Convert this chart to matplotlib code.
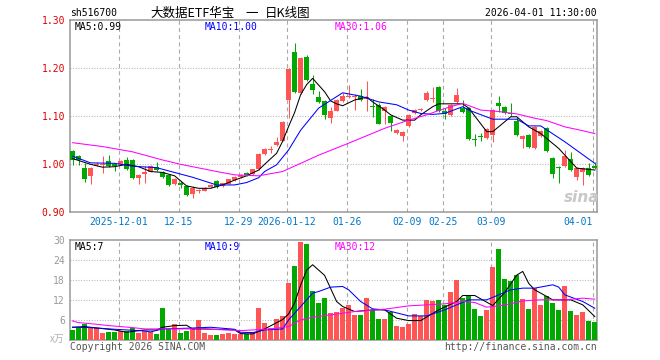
import matplotlib
matplotlib.use('Agg')
import matplotlib.pyplot as plt

plt.rcParams['font.family'] = ['DejaVu Sans Mono', 'Noto Sans CJK SC']

# candles, one per trading day (index 0 = first bar on the left)
opens = [1.028, 1.018, 0.993, 0.976, 0.998, 0.999, 1.007, 1.000, 1.000, 1.010,
         1.009, 0.972, 0.979, 0.985, 0.994, 0.984, 0.978, 0.958, 0.962, 0.955,
         0.938, 0.944, 0.945, 0.953, 0.965, 0.954, 0.960, 0.967, 0.974, 0.981,
         0.979, 0.990, 1.021, 1.030, 1.040, 1.049, 1.134, 1.233, 1.149, 1.224,
         1.167, 1.140, 1.132, 1.096, 1.112, 1.132, 1.141, 1.140, 1.142, 1.137,
         1.122, 1.124, 1.110, 1.100, 1.065, 1.059, 1.080, 1.107, 1.113, 1.134,
         1.136, 1.162, 1.112, 1.103, 1.130, 1.117, 1.117, 1.052, 1.059, 1.054,
         1.061, 1.128, 1.120, 1.106, 1.091, 1.052, 1.061, 1.033, 1.058, 1.076,
         1.014, 0.994, 0.997, 1.011, 0.974, 0.985, 0.992, 0.996]
closes = [1.009, 1.010, 0.969, 0.993, 1.001, 1.001, 0.997, 0.997, 1.007, 0.990,
          0.971, 0.978, 0.985, 0.996, 0.988, 0.974, 0.957, 0.970, 0.956, 0.937,
          0.951, 0.946, 0.951, 0.956, 0.953, 0.961, 0.969, 0.974, 0.977, 0.978,
          0.990, 1.021, 1.031, 1.032, 1.047, 1.089, 1.198, 1.151, 1.222, 1.176,
          1.155, 1.130, 1.103, 1.110, 1.134, 1.142, 1.143, 1.142, 1.134, 1.141,
          1.120, 1.085, 1.119, 1.087, 1.071, 1.067, 1.102, 1.114, 1.115, 1.149,
          1.138, 1.110, 1.105, 1.124, 1.144, 1.108, 1.053, 1.050, 1.057, 1.074,
          1.113, 1.122, 1.106, 1.104, 1.061, 1.059, 1.037, 1.078, 1.069, 1.028,
          0.979, 0.992, 1.018, 0.988, 0.993, 0.992, 0.978, 0.993]
highs = [1.030, 1.020, 1.002, 0.995, 1.004, 1.017, 1.019, 1.002, 1.008, 1.015,
         1.012, 0.980, 0.996, 0.998, 1.004, 0.986, 0.980, 0.971, 0.966, 0.956,
         0.955, 0.949, 0.952, 0.958, 0.967, 0.962, 0.970, 0.976, 0.980, 0.984,
         0.991, 1.023, 1.033, 1.038, 1.057, 1.091, 1.200, 1.252, 1.224, 1.228,
         1.187, 1.153, 1.134, 1.119, 1.136, 1.148, 1.165, 1.146, 1.157, 1.174,
         1.136, 1.128, 1.121, 1.102, 1.073, 1.069, 1.104, 1.116, 1.118, 1.153,
         1.162, 1.164, 1.117, 1.126, 1.158, 1.134, 1.119, 1.063, 1.066, 1.076,
         1.115, 1.142, 1.122, 1.127, 1.098, 1.061, 1.063, 1.080, 1.071, 1.078,
         1.016, 0.996, 1.030, 1.025, 0.995, 0.994, 1.003, 1.005]
lows = [0.999, 0.998, 0.964, 0.959, 0.996, 0.981, 0.995, 0.985, 0.999, 0.988,
        0.969, 0.959, 0.962, 0.984, 0.985, 0.972, 0.955, 0.956, 0.950, 0.934,
        0.930, 0.941, 0.944, 0.951, 0.951, 0.952, 0.958, 0.965, 0.971, 0.976,
        0.977, 0.988, 1.019, 1.024, 1.038, 1.048, 1.096, 1.149, 1.147, 1.174,
        1.146, 1.127, 1.094, 1.087, 1.110, 1.130, 1.138, 1.113, 1.132, 1.110,
        1.098, 1.083, 1.085, 1.070, 1.063, 1.049, 1.078, 1.105, 1.110, 1.132,
        1.130, 1.108, 1.094, 1.101, 1.128, 1.106, 1.051, 1.039, 1.049, 1.052,
        1.047, 1.108, 1.104, 1.100, 1.059, 1.035, 1.035, 1.031, 1.056, 1.026,
        0.971, 0.962, 0.995, 0.986, 0.967, 0.957, 0.976, 0.991]
volumes = [3.1, 3.8, 4.8, 3.8, 3.8, 2.3, 2.6, 2.6, 2.8, 2.8,
           3.6, 2.3, 2.9, 2.6, 2.0, 9.8, 3.3, 4.8, 2.3, 2.9,
           3.6, 6.1, 2.3, 1.6, 1.6, 1.9, 2.3, 1.9, 1.9, 1.9,
           2.4, 9.8, 5.1, 3.6, 6.4, 7.3, 17.1, 22.3, 29.5, 28.8,
           14.8, 11.1, 12.8, 8.1, 8.5, 9.6, 10.6, 7.6, 7.6, 12.7,
           9.1, 6.4, 6.4, 8.6, 4.4, 4.0, 4.9, 7.9, 7.2, 12.1,
           11.8, 12.1, 10.6, 14.3, 17.9, 12.8, 13.3, 9.4, 7.3, 9.1,
           21.8, 27.4, 18.4, 17.6, 19.6, 12.4, 9.4, 15.6, 10.6, 13.3,
           11.2, 9.1, 16.1, 8.8, 7.6, 8.5, 5.8, 5.4]

# moving averages (day index, value)
ma5_days = [0, 3, 5, 7, 9, 11, 13, 15, 17, 19, 21, 23, 25, 27, 29, 31, 32, 34, 35, 36,
            37, 38, 39, 40, 42, 43, 44, 45, 47, 49, 50, 52, 53, 55, 57, 58, 60, 61, 65,
            66, 69, 70, 73, 74, 76, 78, 81, 84, 87]
ma5_vals = [1.012, 1.000, 0.994, 0.995, 1.000, 0.995, 0.985, 0.983, 0.976, 0.955,
            0.950, 0.950, 0.957, 0.967, 0.976, 0.988, 1.000, 1.023, 1.048, 1.079,
            1.108, 1.145, 1.166, 1.179, 1.151, 1.132, 1.126, 1.122, 1.134, 1.140,
            1.130, 1.113, 1.103, 1.092, 1.092, 1.103, 1.120, 1.126, 1.126, 1.117,
            1.068, 1.068, 1.099, 1.099, 1.078, 1.064, 1.033, 0.992, 0.988]
ma10_days = [0, 3, 7, 10, 14, 17, 20, 24, 27, 29, 31, 32, 34, 36, 38, 41, 44, 45, 48,
             51, 54, 56, 58, 60, 62, 65, 66, 70, 74, 76, 78, 82, 87]
ma10_vals = [1.017, 1.003, 1.002, 0.996, 0.993, 0.983, 0.973, 0.957, 0.957, 0.962,
             0.972, 0.985, 0.999, 1.030, 1.071, 1.117, 1.141, 1.149, 1.142, 1.130,
             1.124, 1.113, 1.106, 1.104, 1.106, 1.120, 1.113, 1.094, 1.094, 1.080,
             1.080, 1.047, 1.002]
ma30_days = [0, 5, 10, 15, 18, 20, 24, 27, 31, 35, 41, 46, 52, 56, 59, 61, 63, 65, 68,
             71, 74, 77, 79, 82, 85, 87]
ma30_vals = [1.045, 1.037, 1.026, 1.009, 1.000, 0.995, 0.985, 0.978, 0.976, 0.985,
             1.019, 1.044, 1.075, 1.092, 1.103, 1.112, 1.120, 1.127, 1.113, 1.110,
             1.105, 1.096, 1.091, 1.078, 1.070, 1.064]

vma5_days = [0, 2, 7, 9, 12, 14, 15, 17, 19, 20, 22, 27, 28, 30, 32, 35, 36, 37, 38,
             39, 40, 41, 42, 43, 44, 45, 47, 50, 52, 54, 56, 58, 61, 64, 65, 67, 69,
             70, 72, 74, 75, 76, 77, 80, 83, 85, 87]
vma5_vals = [3.9, 4.1, 3.1, 2.4, 3.1, 3.1, 3.9, 4.4, 4.5, 3.4, 3.4, 3.1, 2.0, 1.9,
             3.4, 6.2, 7.9, 11.2, 16.5, 21.0, 22.6, 21.0, 19.4, 15.5, 11.6, 10.1,
             8.6, 9.1, 9.1, 6.6, 5.9, 5.9, 9.1, 11.6, 13.4, 13.4, 11.4, 10.4, 14.3,
             19.5, 20.6, 17.0, 15.1, 12.1, 12.1, 10.6, 7.1]
vma10_days = [0, 3, 7, 12, 13, 15, 19, 23, 27, 28, 30, 32, 35, 36, 38, 40, 41, 43,
              45, 46, 48, 50, 52, 56, 59, 62, 64, 66, 69, 71, 73, 75, 77, 80, 81, 82,
              85, 87]
vma10_vals = [3.9, 3.8, 3.3, 2.8, 2.5, 3.4, 3.6, 3.9, 3.3, 2.4, 2.3, 3.1, 3.4, 6.1,
              10.1, 14.1, 14.6, 15.9, 16.1, 15.1, 11.6, 9.4, 9.1, 7.3, 7.3, 9.1,
              10.6, 12.1, 12.1, 13.6, 15.1, 15.6, 15.6, 16.6, 15.9, 13.6, 11.6, 9.6]
vma30_days = [0, 1, 4, 6, 10, 12, 21, 26, 28, 30, 33, 36, 38, 40, 42, 43, 47, 52, 56,
              59, 62, 65, 67, 69, 71, 73, 75, 78, 82, 85, 87]
vma30_vals = [5.8, 5.3, 4.8, 4.4, 3.8, 3.4, 3.4, 3.1, 2.9, 3.1, 3.4, 4.1, 6.1, 6.9,
              7.4, 7.6, 8.6, 9.3, 10.3, 10.6, 10.9, 11.6, 11.3, 9.9, 10.3, 10.9, 11.8,
              12.1, 12.1, 12.6, 12.3]

date_days = [8, 18, 28, 36, 46, 56, 62, 70, 87]
date_labels = ['2025-12-01', '12-15', '12-29', '2026-01-12', '01-26',
               '02-09', '02-25', '03-09', '04-01']
price_ticks = [0.90, 1.00, 1.10, 1.20, 1.30]
vol_ticks = [6, 12, 18, 24, 30]

UP, DOWN = '#ff5555', '#00a800'
GRID = '#aaaaaa'
W, H = 660, 360


def px(x, y):
    return x / W, 1 - y / H


fig = plt.figure(figsize=(6.6, 3.6), dpi=100)
ax = fig.add_axes([70 / W, 1 - 212.3 / H, 527.3 / W, 192 / H])
vax = fig.add_axes([70 / W, 1 - 340.3 / H, 527.3 / W, 100.3 / H])

n = len(closes)
days = list(range(n))
colors = [UP if c >= o else DOWN for o, c in zip(opens, closes)]

# candles
bottoms = [min(o, c) for o, c in zip(opens, closes)]
heights = [max(abs(c - o), 0.0021) for o, c in zip(opens, closes)]
ax.vlines(days, lows, highs, colors=colors, lw=0.75, zorder=3)
ax.bar(days, heights, bottom=bottoms, width=0.8, color=colors, lw=0, zorder=4)
ax.plot(ma5_days, ma5_vals, color='black', lw=0.75, zorder=5)
ax.plot(ma10_days, ma10_vals, color='#0000ff', lw=0.75, zorder=5)
ax.plot(ma30_days, ma30_vals, color='#ff00ff', lw=0.75, zorder=5)

# volume
vax.bar(days, volumes, width=0.8, color=colors, lw=0, zorder=3)
vax.plot(vma5_days, vma5_vals, color='black', lw=0.75, zorder=5)
vax.plot(vma10_days, vma10_vals, color='#0000ff', lw=0.75, zorder=5)
vax.plot(vma30_days, vma30_vals, color='#ff00ff', lw=0.75, zorder=5)

for a in (ax, vax):
    a.set_xlim(-0.42, n - 1 + 0.42)
    a.set_xticks([])
    for d in date_days:
        a.axvline(d - 0.33, color=GRID, lw=0.8, ls=(0, (3.6, 2.9)), zorder=1)
    for s in a.spines.values():
        s.set_color('#999999')
        s.set_linewidth(1.1)
    a.tick_params(axis='y', length=0, pad=3.6, labelsize=7)

ax.set_ylim(0.90, 1.30)
ax.set_yticks(price_ticks)
ax.set_yticklabels([f'{t:.2f}' for t in price_ticks], color='#e00000')
for t in price_ticks[1:-1]:
    ax.axhline(t, color=GRID, lw=0.8, ls=(0, (0.8, 1.6)), zorder=1)

vax.set_ylim(0, 30)
vax.set_yticks(vol_ticks)
vax.set_yticklabels([str(t) for t in vol_ticks], color='#999999')
for t in vol_ticks[:-1]:
    vax.axhline(t, color=GRID, lw=0.8, ls=(0, (0.8, 1.6)), zorder=1)

# date labels under the price panel
for d, lab in zip(date_days, date_labels):
    ha = 'right' if d == date_days[-1] else 'center'
    ax.text(d - 0.33, -0.049, lab, transform=ax.get_xaxis_transform(),
            ha=ha, va='center', fontsize=7, color='#0078c8')

# header and footer text
fig.text(*px(70, 13.5), 'sh516700', fontsize=7, va='center', ha='left')
fig.text(*px(150, 13.5), '大数据ETF华宝', fontsize=9, va='center', ha='left',
         family=['Noto Sans CJK SC', 'DejaVu Sans'])
fig.text(*px(245, 13.5), '一', fontsize=9, va='center', ha='left',
         family=['Noto Sans CJK SC', 'DejaVu Sans'])
fig.text(*px(265, 13.5), '日K线图', fontsize=9, va='center', ha='left',
         family=['Noto Sans CJK SC', 'DejaVu Sans'])
fig.text(*px(597, 13.5), '2026-04-01 11:30:00', fontsize=7, va='center', ha='right')

fig.text(*px(75, 26.5), 'MA5:0.99', fontsize=7, va='center', color='black')
fig.text(*px(205, 26.5), 'MA10:1.00', fontsize=7, va='center', color='#0000ff')
fig.text(*px(335, 26.5), 'MA30:1.06', fontsize=7, va='center', color='#ff00ff')
fig.text(*px(75, 246.5), 'MA5:7', fontsize=7, va='center', color='black')
fig.text(*px(205, 246.5), 'MA10:9', fontsize=7, va='center', color='#0000ff')
fig.text(*px(335, 246.5), 'MA30:12', fontsize=7, va='center', color='#ff00ff')

fig.text(*px(64, 339), 'x万', fontsize=7, va='center', ha='right', color='#b0b0b0',
         family=['Noto Sans CJK SC', 'DejaVu Sans'])
fig.text(*px(70, 346.5), 'Copyright 2026 SINA.COM', fontsize=7, va='center',
         color='#555555')
fig.text(*px(597, 346.5), 'http://finance.sina.com.cn', fontsize=7, va='center',
         ha='right', color='#555555')
fig.text(*px(582, 197), 'sina', fontsize=11, va='center', ha='center',
         color='#c8c8c8', style='italic', weight='bold', family='DejaVu Sans')

fig.savefig('out.png', dpi=100, facecolor='white')
